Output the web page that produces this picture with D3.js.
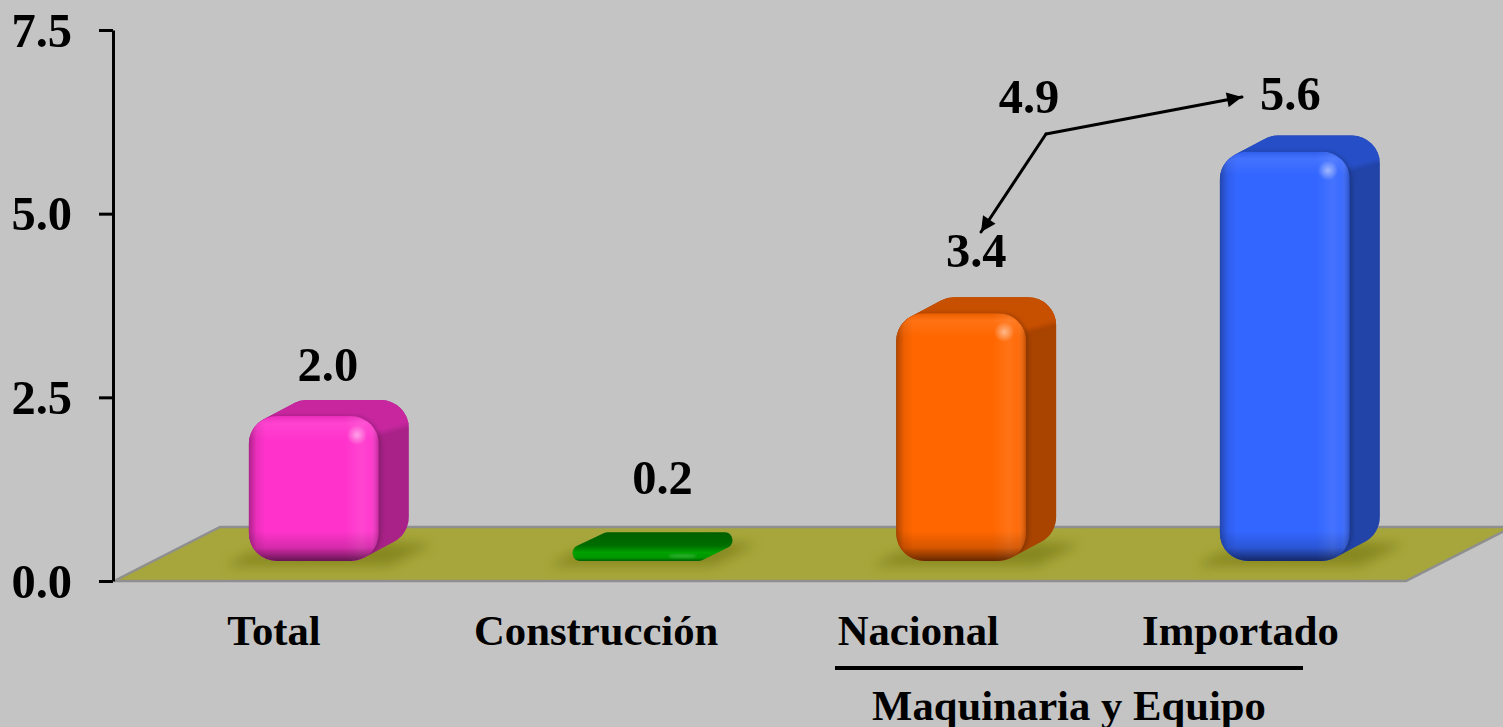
<!DOCTYPE html>
<html><head><meta charset="utf-8">
<script src="https://cdn.jsdelivr.net/npm/d3@7/dist/d3.min.js"></script>
<style>
html,body{margin:0;padding:0;background:#c4c4c4;overflow:hidden}
svg{display:block}
text{font-family:"Liberation Serif","Times New Roman",serif;font-weight:700;fill:#000}
</style></head><body>
<script>
// ---- data ----
const categories = ["Total", "Construcción", "Nacional", "Importado"];
const values = [2.0, 0.2, 3.4, 5.6];
const yTicks = [0, 2.5, 5.0, 7.5];
const groupLabel = "Maquinaria y Equipo";
const annotationLabel = "4.9";
const barColors = ["#ff33cc", "#009900", "#ff6600", "#3366ff"];
const labelShift = [[-1, -17], [10, -36], [0, -28], [-9.5, -24]];

// ---- layout ----
const W = 1503, H = 727;
const svg = d3.select("body").append("svg").attr("width", W).attr("height", H);
svg.append("rect").attr("width", W).attr("height", H).attr("fill", "#c4c4c4");
const defs = svg.append("defs");

const y = d3.scaleLinear().domain([0, 7.5]).range([581, 30]);
// bars sit in the 3-D depth of the floor, labels on its front edge
const x = d3.scaleBand().domain(categories).range([152, 1446.7])
  .paddingInner(0.5984).paddingOuter(0.2992);
const xLabel = d3.scalePoint().domain(categories).range([274, 1240.5]);

const floorLeft = 114, floorRight = 1406;
const floorDx = 106, floorDy = 54;
const depthX = 30, depthY = 16;
const barBottomGap = 20, barTopTrim = 2;
const mult = (c, k) => { const r = d3.rgb(c); return d3.rgb(r.r * k, r.g * k, r.b * k).formatHex(); };

// filters and gradients
const blur = (id, s) => defs.append("filter").attr("id", id)
  .attr("x", "-30%").attr("y", "-80%").attr("width", "160%").attr("height", "260%")
  .append("feGaussianBlur").attr("stdDeviation", s);
blur("b6", 6); blur("b2", 2.2); blur("b1", 1);

function grad(id, stops, vertical) {
  const g = defs.append("linearGradient").attr("id", id)
    .attr("x1", 0).attr("y1", 0).attr("x2", vertical ? 0 : 1).attr("y2", vertical ? 1 : 0);
  stops.forEach(s => g.append("stop").attr("offset", s[0]).attr("stop-color", s[1]).attr("stop-opacity", s[2]));
  return g;
}
grad("leftEdge", [[0, "#000", .32], [.06, "#000", .08], [.13, "#000", 0]], false);
grad("rightBand", [[.74, "#fff", 0], [.87, "#fff", .09], [.93, "#fff", .04], [1, "#000", .25]], false);
grad("topBand", [[0, "#000", .08], [.3, "#fff", .08], [1, "#fff", 0]], true);
grad("botBand", [[0, "#000", 0], [.55, "#000", .16], [1, "#000", .6]], true);
const rg = defs.append("radialGradient").attr("id", "spot");
rg.append("stop").attr("offset", 0).attr("stop-color", "#fff").attr("stop-opacity", .5);
rg.append("stop").attr("offset", .5).attr("stop-color", "#fff").attr("stop-opacity", .25);
rg.append("stop").attr("offset", 1).attr("stop-color", "#fff").attr("stop-opacity", 0);

// floor
const y0 = y(0);
svg.append("path")
  .attr("d", d3.line()([[floorLeft, y0], [floorRight, y0], [floorRight + floorDx, y0 - floorDy], [floorLeft + floorDx, y0 - floorDy]]) + "Z")
  .attr("fill", "#a6a63c").attr("stroke", "#8f8f8f").attr("stroke-width", 2.5);

// bars
const bars = svg.selectAll("g.bar").data(categories).join("g").attr("class", "bar");
bars.each(function (cat, i) {
  const g = d3.select(this), c = barColors[i], v = values[i];
  const w = x.bandwidth(), bx = x(cat);
  const sb = y0 - barBottomGap;
  const by = y(v) - barBottomGap + barTopTrim, h = sb - by;

  // shadow on floor
  g.append("path")
    .attr("d", d3.line()([[bx - 24, sb + 5], [bx + w + 10, sb + 5], [bx + w + 54, sb - 17], [bx + w + 10, sb - 19], [bx, sb - 8]]) + "Z")
    .attr("fill", "#7d7d14").attr("opacity", .72).attr("filter", "url(#b6)");

  if (h < 30) {
    // a flat bar: a rounded slab whose front melts into its top face
    const top = by - depthY, rs = 8;
    const gid = "slab" + i;
    const sg = defs.append("linearGradient").attr("id", gid).attr("gradientUnits", "userSpaceOnUse")
      .attr("x1", 0).attr("x2", 0).attr("y1", top).attr("y2", sb + 1);
    [[0, .62], [.45, .72], [.68, 1.05], [.86, .98], [1, .5]].forEach(s =>
      sg.append("stop").attr("offset", s[0]).attr("stop-color", mult(c, s[1])));
    const slab = d3.line()([[bx + rs, sb - rs], [bx + w - 4, sb - rs], [bx + w + depthX - rs, top + rs], [bx + depthX + 5, top + rs]]) + "Z";
    g.append("path").attr("d", slab).attr("fill", "url(#" + gid + ")")
      .attr("stroke", "url(#" + gid + ")").attr("stroke-width", rs * 2).attr("stroke-linejoin", "round");
    g.append("ellipse").attr("cx", bx + w - 20).attr("cy", sb - 5).attr("rx", 14).attr("ry", 2).attr("fill", "#fff").attr("opacity", .16).attr("filter", "url(#b1)");
    return;
  }

  const r = Math.min(28, h / 2);
  const len = Math.hypot(depthX, depthY);
  const nx = -depthY / len, ny = -depthX / len;
  const p1 = [bx + r + r * nx, by + r + r * ny];
  const p3 = [bx + w - r - r * nx, by + h - r - r * ny];
  const off = p => [p[0] + depthX, p[1] - depthY];
  const band = d3.line()([p1, off(p1), off(p3), p3]) + "Z";

  // silhouette clip
  const cid = "sil" + i, fid = "front" + i;
  const cp = defs.append("clipPath").attr("id", cid);
  cp.append("rect").attr("x", bx).attr("y", by).attr("width", w).attr("height", h).attr("rx", r);
  cp.append("rect").attr("x", bx + depthX).attr("y", by - depthY).attr("width", w).attr("height", h).attr("rx", r);
  cp.append("path").attr("d", band);
  defs.append("clipPath").attr("id", fid)
    .append("rect").attr("x", bx).attr("y", by).attr("width", w).attr("height", h).attr("rx", r);

  const sil = g.append("g").attr("clip-path", `url(#${cid})`);
  sil.append("rect").attr("x", bx - 2).attr("y", by - depthY - 2)
    .attr("width", w + depthX + 4).attr("height", h + depthY + 4).attr("fill", mult(c, .66));
  // top face wraps onto the rounded back corner
  const capY = 14;
  sil.append("path")
    .attr("d", d3.line()([[bx - 2, by - depthY - 4], [bx + w + depthX + 4, by - depthY - 4],
      [bx + w + depthX + 4, by - depthY + capY + 10], [bx + w - 2, by + capY + 4], [bx - 2, by + capY + 4]]) + "Z")
    .attr("fill", mult(c, .78)).attr("filter", "url(#b2)");
  // soft dark seam between front and side
  sil.append("rect").attr("x", bx - 1).attr("y", by).attr("width", w + 3).attr("height", h + 1).attr("rx", r)
    .attr("fill", "#000").attr("opacity", .2).attr("filter", "url(#b2)");

  // front face
  const inner = g.append("g").attr("clip-path", `url(#${fid})`);
  const face = () => inner.append("rect").attr("x", bx).attr("y", by).attr("width", w).attr("height", h);
  face().attr("fill", c);
  face().attr("fill", "url(#leftEdge)");
  face().attr("fill", "url(#rightBand)");
  inner.append("rect").attr("x", bx).attr("y", by).attr("width", w).attr("height", 24).attr("fill", "url(#topBand)");
  inner.append("rect").attr("x", bx).attr("y", sb - 30).attr("width", w).attr("height", 30).attr("fill", "url(#botBand)");
  inner.append("circle").attr("cx", bx + w - 22).attr("cy", by + 19).attr("r", 10).attr("fill", "url(#spot)");
});

// axis
const axis = d3.axisLeft(y).tickValues(yTicks).tickFormat(d3.format(".1f")).tickSizeInner(14).tickSizeOuter(0).tickPadding(27);
const ax = svg.append("g").attr("transform", "translate(113,0)").call(axis);
ax.selectAll("path,line").attr("stroke", "#000").attr("stroke-width", 3);
ax.selectAll("text").attr("font-size", 48.5).attr("font-family", "Liberation Serif").attr("font-weight", 700).attr("fill", "#000").attr("dy", "0.33em");

// value labels
svg.selectAll("text.val").data(categories).join("text").attr("class", "val")
  .attr("text-anchor", "middle").attr("font-size", 48.5)
  .attr("x", (d, i) => x(d) + x.bandwidth() / 2 + depthX / 2 + labelShift[i][0])
  .attr("y", (d, i) => y(values[i]) - barBottomGap - depthY + labelShift[i][1])
  .text((d, i) => values[i].toFixed(1));

// category labels
svg.selectAll("text.cat").data(categories).join("text").attr("class", "cat")
  .attr("text-anchor", "middle").attr("font-size", 42.7)
  .attr("x", d => xLabel(d)).attr("y", 645)
  .text(d => d);

// group bracket + label
svg.append("line").attr("x1", 835).attr("x2", 1303).attr("y1", 668).attr("y2", 668).attr("stroke", "#000").attr("stroke-width", 4);
svg.append("text").attr("text-anchor", "middle").attr("font-size", 42.7).attr("x", 1069).attr("y", 720).text(groupLabel);

// annotation
svg.append("text").attr("text-anchor", "middle").attr("font-size", 48.5).attr("x", 1029).attr("y", 113).text(annotationLabel);
const mk = defs.append("marker").attr("id", "arrow").attr("viewBox", "0 0 10 10").attr("refX", 10).attr("refY", 5)
  .attr("markerWidth", 16).attr("markerHeight", 15).attr("markerUnits", "userSpaceOnUse").attr("orient", "auto");
mk.append("path").attr("d", "M0,0L10,5L0,10Z").attr("fill", "#000");
const joint = [1046, 134];
[[1242, 97], [981, 232]].forEach(t => {
  svg.append("line").attr("x1", joint[0]).attr("y1", joint[1]).attr("x2", t[0]).attr("y2", t[1])
    .attr("stroke", "#000").attr("stroke-width", 3).attr("stroke-linecap", "round").attr("marker-end", "url(#arrow)");
});
</script>
</body></html>
